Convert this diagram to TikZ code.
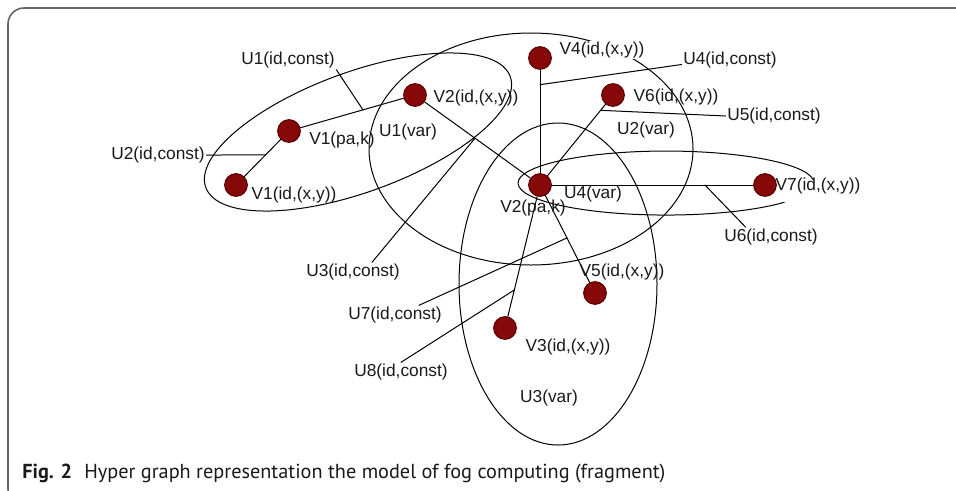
\documentclass[tikz,border=0pt]{standalone}
\usepackage{fontspec}
\usepackage{tikz}
\usetikzlibrary{calc, positioning}
\newfontfamily\labelfont{Liberation Sans}
\newfontfamily\capfont{PT Sans}
\definecolor{vertexred}{RGB}{135, 8, 8}
\definecolor{vertexrim}{RGB}{90, 0, 0}
\definecolor{framegray}{RGB}{100, 100, 100}
\definecolor{labelgray}{RGB}{25, 25, 25}
\tikzset{
    vertex/.style={circle, fill=vertexred, draw=vertexrim, line width=0.8pt, minimum size=17, inner sep=0pt},
    lbl/.style={font=\labelfont\fontsize{13}{15}\selectfont, text=labelgray, inner sep=1pt},
    hedge/.style={line width=0.75pt, black, line cap=round, line join=round},
    leader/.style={line width=0.75pt, black, line cap=round}
}

\begin{document}
\begin{tikzpicture}[x=0.75pt, y=-0.75pt]
    \useasboundingbox (0,0) rectangle (956,490);
    \begin{scope}
        \clip (0,0) rectangle (956,490);
        \draw [framegray, line width=1.2pt, rounded corners=12] (8,8) rectangle (1000,505);
    \end{scope}

    % hyperedges (var)
    \draw [hedge, rotate around={20:(358,132)}] (358,132) ellipse (162 and 60);
    \draw [hedge] (531,149) ellipse (162 and 116);
    \draw [hedge] (558,284) ellipse (99 and 161);
    \coordinate (u4start) at (813.2,179.7);
    \draw [hedge] (u4start) arc [start angle=-6, end angle=-323, x radius=148, y radius=32];

    % vertices
    \node [vertex] (v1a) at (236,185) {};
    \node [vertex] (v1b) at (289,131) {};
    \node [vertex] (v2a) at (415,95) {};
    \node [vertex] (v4) at (540,58) {};
    \node [vertex] (v6) at (613,95) {};
    \node [vertex] (v2p) at (540,185) {};
    \node [vertex] (v7) at (765,185) {};
    \node [vertex] (v5) at (595,293) {};
    \node [vertex] (v3) at (505,328) {};

    % edges
    \draw [hedge] (v1a) -- (v1b);
    \draw [hedge] (v1b) -- (v2a);
    \draw [hedge] (v2a) -- (v2p);
    \draw [hedge] (v4) -- (v2p);
    \draw [hedge] (v6) -- (v2p);
    \draw [hedge] (v2p) -- (v7);
    \draw [hedge] (v2p) -- (v5);
    \draw [hedge] (v2p) -- (v3);

    \coordinate (e12) at ($(v1a)!0.556!(v1b)$);
    \coordinate (e23) at ($(v1b)!0.587!(v2a)$);
    \coordinate (e2p) at ($(v2a)!0.48!(v2p)$);
    \coordinate (e4p) at ($(v4)!0.21!(v2p)$);
    \coordinate (e6p) at ($(v6)!0.17!(v2p)$);
    \coordinate (ep7) at ($(v2p)!0.733!(v7)$);
    \coordinate (ep5) at ($(v2p)!0.49!(v5)$);
    \coordinate (ep3) at ($(v2p)!0.734!(v3)$);

    % labels
    \node [lbl] (lv1a) at (294,195) {V1(id,(x,y))};
    \node [lbl] (lv1b) at (342,140) {V1(pa,k)};
    \node [lbl] (lv2a) at (476,98) {V2(id,(x,y))};
    \node [lbl, fill=white] (lv4) at (602,50) {V4(id,(x,y))};
    \node [lbl] (lv6) at (676,97) {V6(id,(x,y))};
    \node [lbl] (lv2p) at (533,208) {V2(pa,k)};
    \node [lbl] (lv7) at (818,186) {V7(id,(x,y))};
    \node [lbl] (lv5) at (622,272) {V5(id,(x,y))};
    \node [lbl] (lv3) at (568,347) {V3(id,(x,y))};
    \node [lbl] (lu1v) at (408,132) {U1(var)};
    \node [lbl] (lu2v) at (646,130) {U2(var)};
    \node [lbl] (lu3v) at (549,398) {U3(var)};
    \node [lbl] (lu4v) at (593,194) {U4(var)};
    \node [lbl] (u1c) at (288,60) {U1(id,const)};
    \node [lbl] (u2c) at (158,155) {U2(id,const)};
    \node [lbl] (u3c) at (353,272) {U3(id,const)};
    \node [lbl] (u4c) at (730,60) {U4(id,const)};
    \node [lbl] (u5c) at (774,116) {U5(id,const)};
    \node [lbl] (u6c) at (771,237) {U6(id,const)};
    \node [lbl] (u7c) at (395,315) {U7(id,const)};
    \node [lbl] (u8c) at (401,372) {U8(id,const)};

    % leaders
    \draw [leader] (u1c.south east) -- (e23);
    \draw [leader] (u2c.east) -- (e12);
    \draw [leader] (u3c.27) -- (e2p);
    \draw [leader] (u4c.base west) -- (e4p);
    \draw [leader] (u5c.west) -- (e6p);
    \draw [leader] (u6c.159) -- (ep7);
    \draw [leader] (u7c.22) -- (ep5);
    \draw [leader] (u8c.north) -- (ep3);

    % caption
    \node [anchor=base west, inner sep=0pt, font=\capfont\fontsize{15.2}{17}\selectfont, text=labelgray] (caption) at (22,478)
        {\textbf{Fig. 2}\hspace{0.6em}Hyper graph representation the model of fog computing (fragment)};
\end{tikzpicture}
\end{document}
